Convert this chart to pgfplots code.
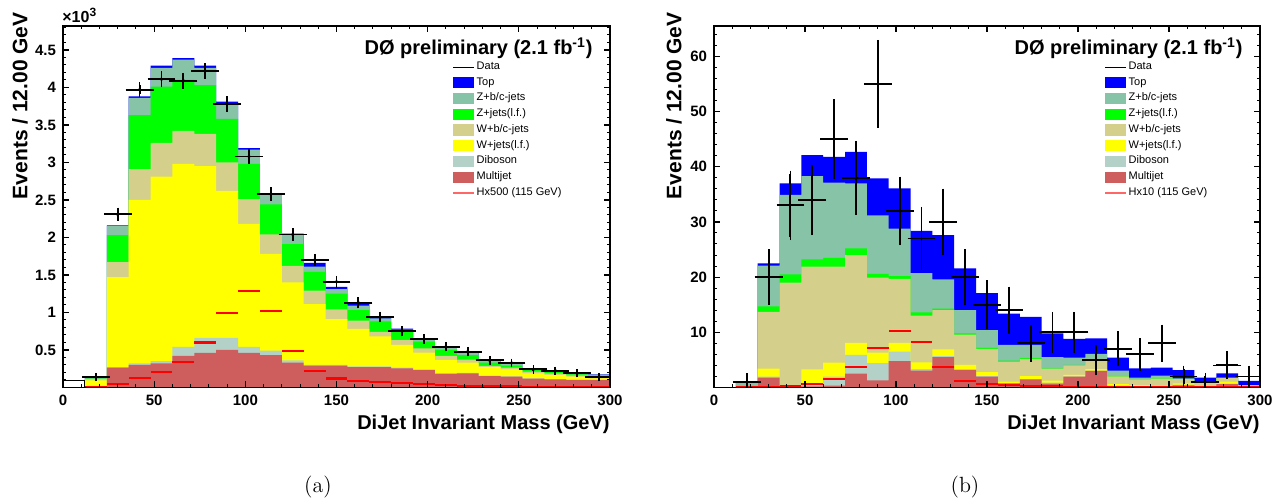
\documentclass[border=0pt]{standalone}
\usepackage{fontspec}
\usepackage{pgfplots}
\usepackage{pgfplotstable}
\pgfplotsset{compat=1.18}
\newfontfamily\hv{Liberation Sans}
\definecolor{ctop}{RGB}{0,0,255}
\definecolor{czbc}{RGB}{134,195,167}
\definecolor{czlf}{RGB}{0,255,0}
\definecolor{cwbc}{RGB}{212,207,138}
\definecolor{cwlf}{RGB}{255,255,0}
\definecolor{cdb}{RGB}{179,209,199}
\definecolor{cmj}{RGB}{206,94,94}
\definecolor{chiggs}{RGB}{255,0,0}

\pgfplotstableread{
x    mj    db    wlf   wbc   zlf   zbc   top
12   0.000 0.000 0.095 0.110 0.118 0.124 0.127
24   0.264 0.270 1.470 1.670 2.030 2.150 2.160
36   0.300 0.320 2.500 2.910 3.630 3.860 3.880
48   0.320 0.350 2.810 3.260 4.010 4.260 4.290
60   0.420 0.540 2.980 3.420 4.100 4.370 4.390
72   0.460 0.660 2.950 3.380 4.030 4.260 4.290
84   0.500 0.660 2.620 3.000 3.580 3.790 3.810
96   0.460 0.540 2.180 2.510 2.980 3.170 3.190
108  0.430 0.490 1.780 2.040 2.440 2.570 2.590
120  0.330 0.360 1.400 1.620 1.910 2.030 2.050
132  0.290 0.300 1.110 1.290 1.540 1.610 1.660
144  0.290 0.300 0.910 1.040 1.250 1.310 1.340
156  0.270 0.280 0.780 0.890 1.030 1.090 1.110
168  0.270 0.280 0.680 0.740 0.880 0.920 0.930
180  0.256 0.265 0.567 0.633 0.740 0.770 0.784
192  0.233 0.240 0.464 0.522 0.611 0.640 0.656
204  0.180 0.190 0.367 0.420 0.500 0.530 0.553
216  0.189 0.195 0.330 0.370 0.433 0.469 0.478
228  0.153 0.158 0.270 0.287 0.331 0.360 0.375
240  0.144 0.148 0.240 0.264 0.290 0.320 0.330
252  0.118 0.122 0.189 0.210 0.233 0.240 0.245
264  0.109 0.112 0.167 0.189 0.211 0.220 0.225
276  0.100 0.103 0.144 0.160 0.176 0.185 0.190
288  0.100 0.103 0.122 0.140 0.158 0.172 0.176
300  0.100 0.103 0.122 0.140 0.158 0.172 0.176
}\stackA

\pgfplotstableread{
x   y     ey    h
18  0.140 0.012 0.010
30  2.310 0.048 0.050
42  3.970 0.063 0.130
54  4.110 0.064 0.210
66  4.090 0.064 0.340
78  4.220 0.065 0.600
90  3.780 0.061 0.990
102 3.080 0.055 1.290
114 2.580 0.051 1.020
126 2.040 0.045 0.490
138 1.700 0.041 0.220
150 1.410 0.038 0.120
162 1.130 0.034 0.090
174 0.940 0.031 0.078
186 0.750 0.027 0.056
198 0.645 0.025 0.042
210 0.545 0.023 0.033
222 0.478 0.022 0.024
234 0.362 0.019 0.020
246 0.327 0.018 0.016
258 0.242 0.016 0.010
270 0.224 0.015 0.006
282 0.189 0.014 0.004
294 0.144 0.012 0.002
}\dataA

\pgfplotstableread{
x    mj    db    wlf   wbc   zlf   zbc   top
12   0.10  0.15  0.20  0.30  0.30  0.80  0.80
24   1.80  1.95  3.40  13.70 14.70 22.10 22.50
36   0.30  0.35  0.45  19.00 20.50 34.90 37.00
48   0.20  0.75  3.30  21.90 23.20 38.30 42.10
60   0.35  1.95  4.50  21.90 23.50 37.10 41.80
72   2.50  5.90  8.10  24.00 25.20 37.00 42.70
84   1.30  4.40  6.30  19.90 20.60 31.20 37.90
96   4.80  6.50  8.10  19.70 20.20 28.80 36.10
108  3.05  3.35  4.56  13.00 13.60 20.70 28.40
120  5.50  5.70  6.90  14.00 14.30 19.60 27.60
132  3.17  3.35  4.08  9.60  9.80  14.00 21.60
144  1.96  2.08  2.80  7.00  7.20  10.40 17.10
156  0.76  0.80  1.06  4.70  4.86  7.70  13.40
168  1.48  1.50  2.08  5.20  5.30  7.70  12.80
180  0.70  0.88  1.24  3.40  3.47  5.50  9.80
192  1.96  2.00  2.27  4.00  4.08  5.40  8.79
204  3.00  3.05  3.35  5.00  5.10  6.07  8.90
216  0.20  0.30  0.60  2.00  2.08  3.05  5.40
228  0.20  0.30  0.45  1.45  1.54  1.78  3.47
240  0.30  0.35  0.45  1.60  1.66  2.14  3.60
252  0.40  0.50  0.76  1.50  1.54  1.66  3.17
264  0.30  0.35  0.40  0.95  1.00  1.06  1.78
276  0.60  0.70  1.06  1.70  1.75  1.78  2.57
288  0.20  0.25  0.30  0.40  0.42  0.45  1.18
300  0.20  0.25  0.30  0.40  0.42  0.45  1.18
}\stackB

\pgfplotstableread{
x   y   ey    h
18  1   1.00  0.05
30  20  4.47  0.10
42  33  5.74  0.25
54  34  5.83  0.60
66  45  6.71  1.50
78  38  6.16  3.65
90  55  7.42  7.10
102 32  5.66  10.30
114 27  5.20  8.30
126 30  5.48  3.65
138 20  4.47  1.24
150 15  3.87  0.60
162 14  3.74  0.45
174 8   2.83  0.30
186 10  3.16  0.20
198 10  3.16  0.15
210 5   2.24  0.10
222 7   2.65  0.08
234 6   2.45  0.06
246 8   2.83  0.05
258 2   1.41  0.04
270 1   1.00  0.03
282 4   2.00  0.02
294 2   1.41  0.02
}\dataB

\pgfplotsset{
  boxleg/.style={legend image code/.code={\fill[#1] (0pt,-2.8pt) rectangle (10.5pt,2.8pt);}},
  hist/.style={const plot mark left, draw=none, fill=#1, boxleg=#1},
  rootaxis/.style={
    anchor=south west, scale only axis,
    xmin=0, xmax=300, ymin=0,
    xtick={0,50,...,300}, minor xtick={0,10,...,300},
    tick align=inside, major tick length=3.2pt, minor tick length=1.6pt,
    axis on top,
    axis line style={line width=0.8pt},
    every tick/.style={black, line width=0.6pt},
    every minor tick/.style={black, line width=0.5pt},
    /pgf/number format/assume math mode=true,
    ticklabel style={font=\hv\bfseries\fontsize{7.5}{9}\selectfont},
    legend cell align=left,
    legend style={draw=none, fill=none, inner sep=0pt, row sep=0.6pt,
      font=\hv\fontsize{5.5}{6.5}\selectfont,
      nodes={inner sep=0.9pt}},
  },
  databars/.style={draw=none, forget plot,
    error bars/x dir=both, error bars/x fixed=6,
    error bars/y dir=both, error bars/y explicit,
    error bars/error bar style={draw=black, line width=0.95pt},
    error bars/error mark options={draw=black, mark size=1.5pt, line width=0.9pt}},
  higgs/.style={draw=none, forget plot,
    error bars/x dir=both, error bars/x fixed=6, error bars/error mark=none,
    error bars/error bar style={draw=chiggs, line width=1.1pt}},
  lineleg/.style={legend image code/.code={\draw[#1] (0pt,0pt) -- (10.5pt,0pt);}},
}

\begin{document}
\begin{tikzpicture}
\useasboundingbox (0,0) rectangle (640.5pt,249pt);

% ---------------- panel (a)
\begin{axis}[rootaxis, at={(31.5pt,55.25pt)}, width=273.5pt, height=180.75pt,
  ymax=4.82, ytick={0.5,1,...,4.5}, yticklabels={0.5,1,1.5,2,2.5,3,3.5,4,4.5},
  minor ytick={0,0.1,...,4.8},
  legend style={at={(rel axis cs:0.711,0.906)}, anchor=north west}]
\addlegendimage{lineleg={black, line width=0.8pt}}
\addlegendentry{Data}
\addplot[hist=ctop] table[x=x, y=top] {\stackA} \closedcycle; \addlegendentry{Top}
\addplot[hist=czbc] table[x=x, y=zbc] {\stackA} \closedcycle; \addlegendentry{Z+b/c-jets}
\addplot[hist=czlf] table[x=x, y=zlf] {\stackA} \closedcycle; \addlegendentry{Z+jets(l.f.)}
\addplot[hist=cwbc] table[x=x, y=wbc] {\stackA} \closedcycle; \addlegendentry{W+b/c-jets}
\addplot[hist=cwlf] table[x=x, y=wlf] {\stackA} \closedcycle; \addlegendentry{W+jets(l.f.)}
\addplot[hist=cdb]  table[x=x, y=db]  {\stackA} \closedcycle; \addlegendentry{Diboson}
\addplot[hist=cmj]  table[x=x, y=mj]  {\stackA} \closedcycle; \addlegendentry{Multijet}
\addlegendimage{lineleg={draw=chiggs!60, line width=0.8pt}}
\addlegendentry{Hx500 (115 GeV)}
\addplot[const plot mark left, draw=black, fill=white, line width=0.5pt, forget plot] coordinates {(0,0.09) (12,0.09)} \closedcycle;
\addplot[higgs, mark=none] table[x=x, y=h] {\dataA};
\addplot[databars, mark=*, mark size=0.7pt, mark options={draw=black, fill=black}] table[x=x, y=y, y error=ey] {\dataA};
\end{axis}

% ---------------- panel (b)
\begin{axis}[rootaxis, at={(357pt,55.25pt)}, width=273pt, height=180.75pt,
  ymax=65.5, ytick={10,20,...,60}, minor ytick={0,2,...,64},
  legend style={at={(rel axis cs:0.714,0.906)}, anchor=north west}]
\addlegendimage{lineleg={black, line width=0.8pt}}
\addlegendentry{Data}
\addplot[hist=ctop] table[x=x, y=top] {\stackB} \closedcycle; \addlegendentry{Top}
\addplot[hist=czbc] table[x=x, y=zbc] {\stackB} \closedcycle; \addlegendentry{Z+b/c-jets}
\addplot[hist=czlf] table[x=x, y=zlf] {\stackB} \closedcycle; \addlegendentry{Z+jets(l.f.)}
\addplot[hist=cwbc] table[x=x, y=wbc] {\stackB} \closedcycle; \addlegendentry{W+b/c-jets}
\addplot[hist=cwlf] table[x=x, y=wlf] {\stackB} \closedcycle; \addlegendentry{W+jets(l.f.)}
\addplot[hist=cdb]  table[x=x, y=db]  {\stackB} \closedcycle; \addlegendentry{Diboson}
\addplot[hist=cmj]  table[x=x, y=mj]  {\stackB} \closedcycle; \addlegendentry{Multijet}
\addlegendimage{lineleg={draw=chiggs!60, line width=0.8pt}}
\addlegendentry{Hx10 (115 GeV)}
\addplot[higgs, mark=none] table[x=x, y=h] {\dataB};
\addplot[databars, mark=none] table[x=x, y=y, y error=ey] {\dataB};
\end{axis}

% ---------------- texts
\node[anchor=east, font=\hv\bfseries\fontsize{10}{12}\selectfont, inner sep=0pt] at (296.5pt,225pt) {DØ preliminary (2.1 fb\textsuperscript{-1})};
\node[anchor=east, font=\hv\bfseries\fontsize{10}{12}\selectfont, inner sep=0pt] at (621.5pt,225pt) {DØ preliminary (2.1 fb\textsuperscript{-1})};
\node[anchor=south west, font=\hv\bfseries\fontsize{8}{9}\selectfont, inner sep=0pt] at (31pt,237.5pt) {×10\textsuperscript{3}};
\node[anchor=east, rotate=90, font=\hv\bfseries\fontsize{10.5}{12}\selectfont, inner sep=0pt] at (10pt,243pt) {Events / 12.00 GeV};
\node[anchor=east, rotate=90, font=\hv\bfseries\fontsize{10.5}{12}\selectfont, inner sep=0pt] at (337pt,243pt) {Events / 12.00 GeV};
\node[anchor=east, font=\hv\bfseries\fontsize{10}{12}\selectfont, inner sep=0pt] at (305pt,37pt) {DiJet Invariant Mass (GeV)};
\node[anchor=east, font=\hv\bfseries\fontsize{10}{12}\selectfont, inner sep=0pt] at (630pt,37pt) {DiJet Invariant Mass (GeV)};
\node[font=\fontsize{11}{13}\selectfont, inner sep=0pt] at (159pt,5.5pt) {(a)};
\node[font=\fontsize{11}{13}\selectfont, inner sep=0pt] at (482.5pt,5.5pt) {(b)};
\end{tikzpicture}
\end{document}
